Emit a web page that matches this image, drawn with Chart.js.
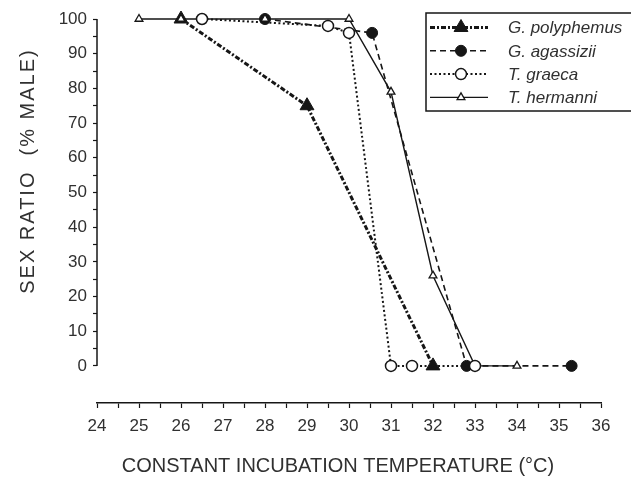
<!DOCTYPE html>
<html>
<head>
<meta charset="utf-8">
<script src="https://cdn.jsdelivr.net/npm/chart.js@4"></script>
<style>
html, body { margin: 0; padding: 0; background: #fff; }
#wrap { width: 631px; height: 480px; }
</style>
</head>
<body>
<div id="wrap"><canvas id="chart"></canvas></div>
<script>
// incubation temperature (C) and % male for each species
const polyTemp = [26, 29, 32];
const polyMale = [100, 75, 0];

const agasTemp = [28, 30.55, 32.8, 35.3];
const agasMale = [100, 96, 0, 0];

const graecaTemp = [26.5, 29.5, 30, 31, 31.5, 33];
const graecaMale = [100, 98, 96, 0, 0, 0];

const hermTemp = [25, 26, 28, 30, 31, 32, 33, 34];
const hermMale = [100, 100, 100, 100, 79, 26, 0, 0];

const seriesNames = ["G. polyphemus", "G. agassizii", "T. graeca", "T. hermanni"];

const xTickLabels = [24, 25, 26, 27, 28, 29, 30, 31, 32, 33, 34, 35, 36];
const yTickLabels = [0, 10, 20, 30, 40, 50, 60, 70, 80, 90, 100];

const ink = "#161616";
const textInk = "#303030";
const font = "'Liberation Sans', Arial, Helvetica, sans-serif";

function pts(xs, ys) {
  return xs.map((x, i) => ({ x: x, y: ys[i] }));
}

function marker(ctx, style, r, fill, x, y) {
  ctx.beginPath();
  if (style === "triangle") {
    let a = 0;
    ctx.moveTo(x + Math.sin(a) * r, y - Math.cos(a) * r);
    a += 2 * Math.PI / 3;
    ctx.lineTo(x + Math.sin(a) * r, y - Math.cos(a) * r);
    a += 2 * Math.PI / 3;
    ctx.lineTo(x + Math.sin(a) * r, y - Math.cos(a) * r);
    ctx.closePath();
  } else {
    ctx.arc(x, y, r, 0, Math.PI * 2);
  }
  ctx.fillStyle = fill;
  ctx.fill();
  ctx.stroke();
}

const decor = {
  id: "decor",
  afterDraw(chart) {
    const ctx = chart.ctx;
    const ys = chart.scales.y;
    const area = chart.chartArea;
    ctx.save();

    // y spine only from 0 to 100
    ctx.strokeStyle = ink;
    ctx.lineWidth = 1.5;
    ctx.setLineDash([]);
    ctx.beginPath();
    ctx.moveTo(area.left, ys.getPixelForValue(0));
    ctx.lineTo(area.left, ys.getPixelForValue(100));
    ctx.stroke();

    // axis titles
    ctx.fillStyle = textInk;
    ctx.font = "20px " + font;
    ctx.textAlign = "center";
    ctx.textBaseline = "middle";
    ctx.fillText("CONSTANT INCUBATION TEMPERATURE (\u00B0C)", 338, 466);

    ctx.save();
    ctx.translate(28, 171);
    ctx.rotate(-Math.PI / 2);
    ctx.letterSpacing = "2px";
    ctx.fillText("SEX RATIO  (% MALE)", 0, 0);
    ctx.restore();

    // legend box
    const bx = 426, by = 13, bh = 98;
    ctx.fillStyle = "#fff";
    ctx.strokeStyle = ink;
    ctx.lineWidth = 1.5;
    ctx.fillRect(bx, by, 240, bh);
    ctx.strokeRect(bx, by, 240, bh);

    chart.data.datasets.forEach((ds, i) => {
      const cy = by + 14.5 + i * 23.3;
      ctx.strokeStyle = ink;
      ctx.lineWidth = ds.borderWidth;
      ctx.setLineDash(ds.borderDash || []);
      ctx.beginPath();
      ctx.moveTo(430, cy);
      ctx.lineTo(488, cy);
      ctx.stroke();
      ctx.setLineDash([]);
      ctx.lineWidth = ds.pointBorderWidth;
      marker(ctx, ds.pointStyle, ds.pointRadius, ds.pointBackgroundColor, 461, cy);
      ctx.fillStyle = textInk;
      ctx.font = "italic 17px " + font;
      ctx.textAlign = "left";
      ctx.textBaseline = "middle";
      ctx.fillText(ds.label, 508, cy + 1);
    });
    ctx.restore();
  }
};

new Chart(document.getElementById("chart"), {
  type: "line",
  data: {
    datasets: [
      {
        label: seriesNames[0],
        data: pts(polyTemp, polyMale),
        borderColor: ink,
        borderWidth: 3,
        borderDash: [5, 2, 2, 2],
        pointStyle: "triangle",
        pointRadius: 8,
        pointBackgroundColor: ink,
        pointBorderColor: ink,
        pointBorderWidth: 1,
        order: 4
      },
      {
        label: seriesNames[1],
        data: pts(agasTemp, agasMale),
        borderColor: ink,
        borderWidth: 1.6,
        borderDash: [6, 4],
        pointStyle: "circle",
        pointRadius: 5.5,
        pointBackgroundColor: ink,
        pointBorderColor: ink,
        pointBorderWidth: 1,
        order: 3
      },
      {
        label: seriesNames[2],
        data: pts(graecaTemp, graecaMale),
        borderColor: ink,
        borderWidth: 2,
        borderDash: [2, 2.5],
        pointStyle: "circle",
        pointRadius: 5.5,
        pointBackgroundColor: "#fff",
        pointBorderColor: ink,
        pointBorderWidth: 1.5,
        order: 1
      },
      {
        label: seriesNames[3],
        data: pts(hermTemp, hermMale),
        borderColor: ink,
        borderWidth: 1.4,
        pointStyle: "triangle",
        pointRadius: 4.5,
        pointBackgroundColor: "#fff",
        pointBorderColor: ink,
        pointBorderWidth: 1.3,
        order: 2
      }
    ]
  },
  options: {
    responsive: true,
    maintainAspectRatio: false,
    animation: false,
    clip: false,
    layout: { padding: { top: 19, right: 30, left: 0, bottom: 0 } },
    plugins: {
      legend: { display: false },
      tooltip: { enabled: false }
    },
    elements: { line: { tension: 0 } },
    scales: {
      x: {
        type: "linear",
        min: 24,
        max: 36,
        afterFit(s) { s.height = 77; },
        afterBuildTicks(s) {
          const t = [];
          xTickLabels.forEach((v, i) => {
            t.push({ value: v });
            if (i < xTickLabels.length - 1) t.push({ value: v + 0.5 });
          });
          s.ticks = t;
        },
        ticks: {
          callback: v => Number.isInteger(v) ? String(v) : "",
          font: { size: 17, family: font },
          color: textInk,
          padding: 8,
          maxRotation: 0,
          autoSkip: false
        },
        grid: { drawOnChartArea: false, tickLength: 5, tickColor: ink, tickWidth: 1.2 },
        border: { color: ink, width: 1.5 }
      },
      y: {
        min: -10.7,
        max: 100,
        afterFit(s) { s.width = 97; },
        afterBuildTicks(s) {
          const t = [];
          yTickLabels.forEach((v, i) => {
            t.push({ value: v });
            if (i < yTickLabels.length - 1) t.push({ value: v + 5 });
          });
          s.ticks = t;
        },
        ticks: {
          callback: v => v % 10 === 0 ? String(v) : "",
          font: { size: 17, family: font },
          color: textInk,
          padding: 6,
          autoSkip: false
        },
        grid: { drawOnChartArea: false, tickLength: 4, tickColor: ink, tickWidth: 1.2 },
        border: { display: false }
      }
    }
  },
  plugins: [decor]
});
</script>
</body>
</html>
